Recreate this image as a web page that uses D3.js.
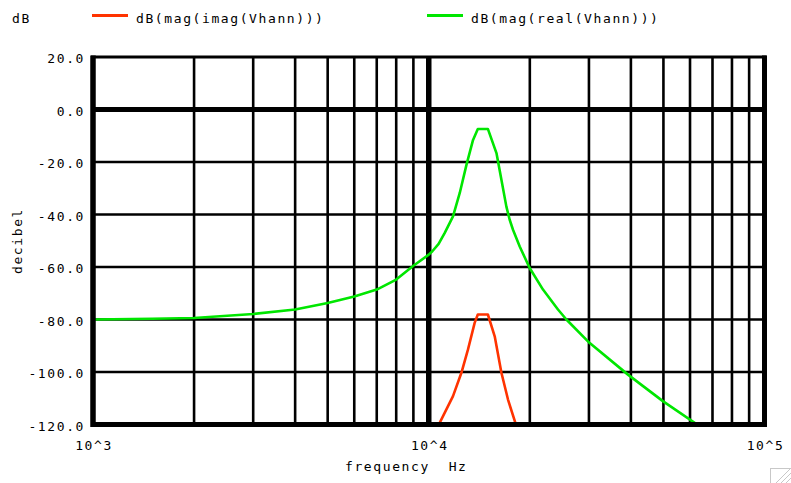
<!DOCTYPE html>
<html>
<head>
<meta charset="utf-8">
<script src="https://cdn.jsdelivr.net/npm/d3@7"></script>
<style>
  html, body { margin: 0; padding: 0; background: #fff; }
  svg { display: block; }
  text { font-family: "DejaVu Sans Mono", "Liberation Mono", monospace; font-size: 13px; fill: #000; letter-spacing: 1.6px; }
</style>
</head>
<body>
<svg id="chart" width="791" height="483"></svg>
<script>
// ---- data ----
const seriesNames = ["dB(mag(imag(Vhann)))", "dB(mag(real(Vhann)))"];
const realFreq = [1000, 1500, 2000, 3000, 4000, 5000, 6000, 7000, 8000, 9000, 10000, 10250, 10700, 11160, 11810, 12370, 12950, 13550, 14000, 15000, 15910, 16460, 17030, 17420, 17820, 18660, 19980, 21890, 24260, 25700, 30100, 39200, 49800, 64000];
const realDb   = [-80.0, -79.7, -79.4, -77.9, -76.2, -73.7, -71.2, -68.6, -64.8, -59.5, -55.3, -54.0, -51.2, -47.0, -40.7, -31.8, -21.1, -11.6, -7.4, -7.4, -16.6, -26.8, -37.0, -42.0, -45.8, -52.2, -60.4, -68.6, -76.2, -80.0, -88.9, -101.0, -111.1, -120.6];
const imagFreq = [10660, 11810, 12510, 13090, 13700, 14000, 15000, 15720, 16460, 17220, 18240];
const imagDb   = [-120.6, -109.2, -100.3, -91.4, -81.3, -78.1, -78.1, -86.4, -100.3, -110.5, -120.6];
const yTicks = [20, 0, -20, -40, -60, -80, -100, -120];
const yTickLabels = ["20.0", "0.0", "-20.0", "-40.0", "-60.0", "-80.0", "-100.0", "-120.0"];
const xTicks = [1000, 10000, 100000];
const xTickLabels = ["10^3", "10^4", "10^5"];
const xMinor = [2000, 3000, 4000, 5000, 6000, 7000, 8000, 9000, 20000, 30000, 40000, 50000, 60000, 70000, 80000, 90000];

// ---- layout ----
const L = 93, R = 764.5, T = 57, B = 424.5;
const svg = d3.select("#chart");
const x = d3.scaleLog().domain([1000, 100000]).range([L, R]);
const y = d3.scaleLinear().domain([-120, 20]).range([B, T]);

// grid
const grid = svg.append("g");
grid.selectAll("line.vminor").data(xMinor).join("line")
  .attr("x1", d => x(d)).attr("x2", d => x(d)).attr("y1", T).attr("y2", B)
  .attr("stroke", "#000").attr("stroke-width", 2.6);
grid.selectAll("line.hminor").data(yTicks.filter(d => d !== 0 && d !== 20 && d !== -120)).join("line")
  .attr("x1", L).attr("x2", R).attr("y1", d => y(d)).attr("y2", d => y(d))
  .attr("stroke", "#000").attr("stroke-width", 2.6);
// major lines
grid.append("line").attr("x1", x(10000)).attr("x2", x(10000)).attr("y1", T).attr("y2", B)
  .attr("stroke", "#000").attr("stroke-width", 5.5);
grid.append("line").attr("x1", L).attr("x2", R).attr("y1", y(0)).attr("y2", y(0))
  .attr("stroke", "#000").attr("stroke-width", 5);

// curves
svg.append("clipPath").attr("id", "clip").append("rect")
  .attr("x", L).attr("y", T).attr("width", R - L).attr("height", B - T);
const line = d3.line().x(d => x(d[0])).y(d => y(d[1]));
const colors = ["#ff3300", "#00e600"];
const plots = svg.append("g").attr("clip-path", "url(#clip)");
plots.append("path").datum(d3.zip(realFreq, realDb)).attr("d", line)
  .attr("fill", "none").attr("stroke", colors[1]).attr("stroke-width", 2.6).attr("stroke-linejoin", "round");
plots.append("path").datum(d3.zip(imagFreq, imagDb)).attr("d", line)
  .attr("fill", "none").attr("stroke", colors[0]).attr("stroke-width", 2.6).attr("stroke-linejoin", "round");

// frame
svg.append("line").attr("x1", L - 2).attr("x2", R + 2).attr("y1", T).attr("y2", T).attr("stroke", "#000").attr("stroke-width", 3);
svg.append("line").attr("x1", L).attr("x2", L).attr("y1", T - 1.5).attr("y2", B + 2.5).attr("stroke", "#000").attr("stroke-width", 5.5);
svg.append("line").attr("x1", R).attr("x2", R).attr("y1", T - 1.5).attr("y2", B + 2.5).attr("stroke", "#000").attr("stroke-width", 5);
svg.append("line").attr("x1", L).attr("x2", R).attr("y1", B).attr("y2", B).attr("stroke", "#000").attr("stroke-width", 5);

// y tick labels
svg.selectAll("text.ylab").data(yTicks).join("text")
  .attr("x", 85).attr("y", d => y(d) + 6)
  .attr("text-anchor", "end").text((d, i) => yTickLabels[i]);
// x tick labels
svg.selectAll("text.xlab").data(xTicks).join("text")
  .attr("x", d => x(d) + 1).attr("y", 450)
  .attr("text-anchor", "middle").text((d, i) => xTickLabels[i]);

// axis titles
svg.append("text").attr("transform", "translate(22,241) rotate(-90)")
  .attr("text-anchor", "middle").text("decibel");
svg.append("text").attr("x", 345).attr("y", 471).attr("xml:space", "preserve")
  .style("white-space", "pre").text("frequency  Hz");

// legend
svg.append("text").attr("x", 12).attr("y", 23).text("dB");
const legX = [92, 427];
seriesNames.forEach((n, i) => {
  svg.append("line").attr("x1", legX[i]).attr("x2", legX[i] + 36).attr("y1", 15.5).attr("y2", 15.5)
    .attr("stroke", colors[i]).attr("stroke-width", 3);
  svg.append("text").attr("x", legX[i] + 44).attr("y", 23).text(n);
});

// resize grip decoration
const grip = svg.append("g").attr("stroke", "#c8c8c8").attr("fill", "none");
grip.append("rect").attr("x", 770.5).attr("y", 468.5).attr("width", 22).attr("height", 20);
[0, 5, 10].forEach(o => grip.append("line").attr("x1", 776 + o).attr("y1", 483).attr("x2", 791).attr("y2", 468 + o));
</script>
</body>
</html>
